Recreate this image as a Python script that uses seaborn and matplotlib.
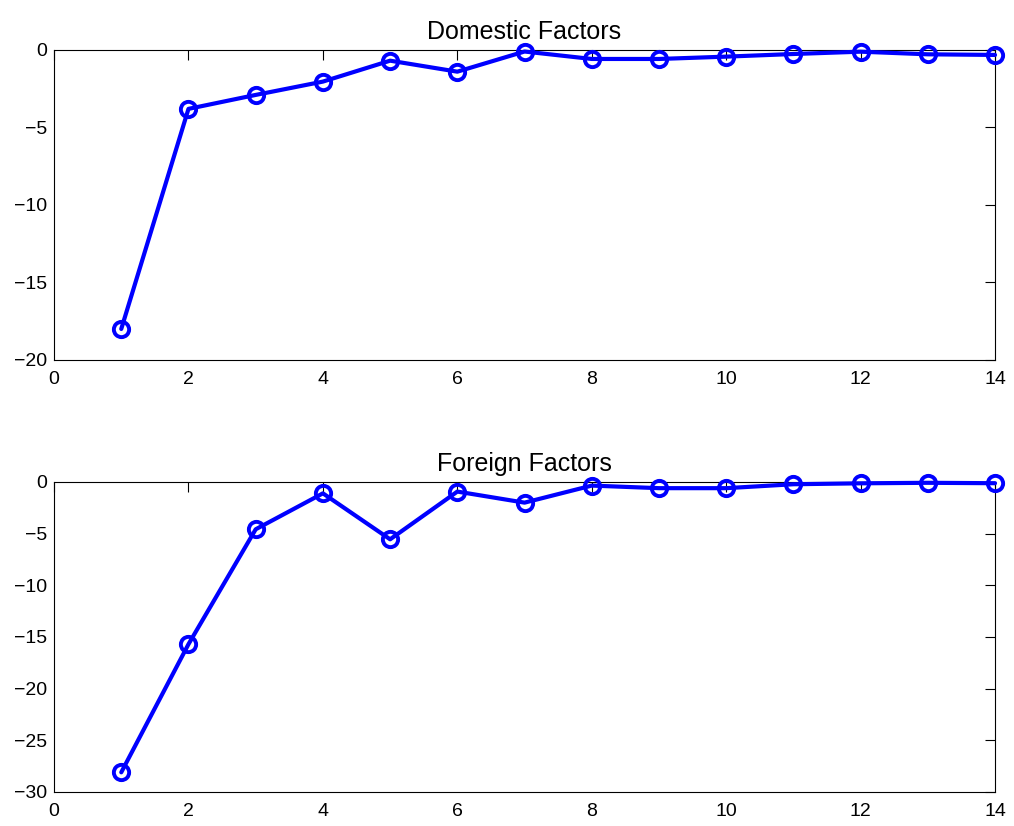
import numpy as np
import pandas as pd
import matplotlib
matplotlib.use("Agg")
import matplotlib.pyplot as plt
import seaborn as sns

horizon = list(range(1, 15))
domestic = [-18.0, -3.8, -2.9, -2.04, -0.69, -1.4, -0.1, -0.58, -0.58, -0.43, -0.26, -0.11, -0.28, -0.32]
foreign = [-28.1, -15.7, -4.58, -1.1, -5.55, -0.93, -2.0, -0.35, -0.6, -0.6, -0.22, -0.13, -0.08, -0.12]

panels = [
    ("Domestic Factors", domestic, (-20, 0), [-20, -15, -10, -5, 0]),
    ("Foreign Factors", foreign, (-30, 0), [-30, -25, -20, -15, -10, -5, 0]),
]
xticks = [0, 2, 4, 6, 8, 10, 12, 14]

sns.set_style("white")
plt.rcParams["font.family"] = ["Liberation Sans", "DejaVu Sans"]
plt.rcParams["text.color"] = "black"

fig = plt.figure(figsize=(10.14, 8.26), dpi=100)
boxes = [
    [0.0533, 0.5642, 0.9280, 0.3753],
    [0.0533, 0.0412, 0.9280, 0.3753],
]

for (title, values, ylim, yticks), box in zip(panels, boxes):
    ax = fig.add_axes(box)
    df = pd.DataFrame({"h": horizon, "v": values})
    sns.lineplot(data=df, x="h", y="v", ax=ax, color=(0, 0, 1),
                 linewidth=3.0, marker="o", markersize=11,
                 markerfacecolor="none", markeredgecolor=(0, 0, 1),
                 markeredgewidth=2.8, clip_on=False, zorder=3)
    ax.set_xlim(0, 14)
    ax.set_ylim(*ylim)
    ax.set_xticks(xticks)
    ax.set_yticks(yticks)
    ax.set_xlabel("")
    ax.set_ylabel("")
    ax.set_title(title, fontsize=18, pad=8, color="black")
    ax.tick_params(direction="in", length=7, width=0.8, top=True, right=True,
                   labelsize=14, colors="black")
    ax.tick_params(axis="x", pad=8)
    ax.tick_params(axis="y", pad=5)
    for s in ax.spines.values():
        s.set_visible(True)
        s.set_color("black")
        s.set_linewidth(0.8)
    ax.grid(False)

fig.savefig("out.png", dpi=100)
